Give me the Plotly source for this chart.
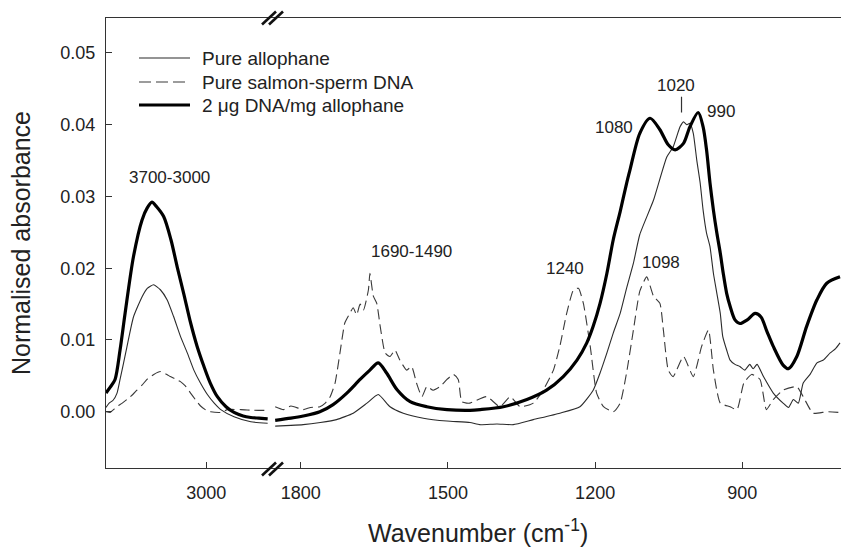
import plotly.graph_objects as go

# ---------------- data ----------------
# High-wavenumber segment (O-H stretching region), cm-1
allo_hi_wn = [3764, 3740, 3710, 3680, 3657, 3630, 3605, 3555, 3490, 3450, 3402, 3350,
              3299, 3250, 3197, 3145, 3095, 3045, 2992, 2940, 2890, 2789, 2661, 2533]
allo_hi = [0.0006, 0.0012, 0.0016, 0.0026, 0.0045, 0.0068, 0.0090, 0.0132, 0.0160, 0.0172,
           0.0177, 0.0170, 0.0156, 0.0133, 0.0105, 0.0082, 0.0058, 0.0040, 0.0024, 0.0012,
           0.0003, -0.0007, -0.0014, -0.0016]

dna_hi_wn = [3764, 3733, 3700, 3682, 3640, 3605, 3560, 3529, 3490, 3452, 3400, 3350, 3300,
             3274, 3240, 3197, 3160, 3120, 3080, 3044, 3000, 2967, 2890, 2839, 2737, 2640, 2533]
dna_hi = [0.0000, -0.0001, 0.0004, 0.0007, 0.0012, 0.0017, 0.0024, 0.0030, 0.0037, 0.0045,
          0.0052, 0.0056, 0.0052, 0.0049, 0.0046, 0.0042, 0.0036, 0.0026, 0.0016, 0.0008,
          0.0002, 0.0000, -0.0001, 0.0003, 0.0003, 0.0002, 0.0002]

cplx_hi_wn = [3764, 3733, 3695, 3657, 3618, 3555, 3490, 3450, 3414, 3380, 3325, 3270, 3222,
              3170, 3120, 3070, 3018, 2970, 2916, 2850, 2789, 2720, 2661, 2600, 2533]
cplx_hi = [0.0026, 0.0034, 0.0045, 0.0086, 0.0138, 0.0216, 0.0267, 0.0284, 0.0292, 0.0286,
           0.0272, 0.0240, 0.0202, 0.0163, 0.0124, 0.0091, 0.0063, 0.0040, 0.0021, 0.0007,
           -0.0001, -0.0006, -0.0008, -0.0009, -0.0010]

# Low-wavenumber segment (fingerprint region), cm-1
allo_lo_wn = [1852, 1820, 1795, 1760, 1727, 1693, 1665, 1642, 1618, 1591, 1550, 1502, 1455,
              1435, 1400, 1367, 1326, 1272, 1231, 1204, 1190, 1176, 1163, 1149, 1136, 1122,
              1109, 1081, 1054, 1041, 1027, 1020, 1013, 1007, 1000, 993, 986, 980, 973, 966,
              959, 952, 945, 940, 932, 925, 915, 905, 895, 885, 878, 870, 857, 837, 817,
              806, 796, 786, 776, 762, 748, 735, 721, 710, 701]
allo_lo = [-0.0020, -0.0019, -0.0018, -0.0015, -0.0011, -0.0002, 0.0012, 0.0024, 0.0007,
           -0.0002, -0.0009, -0.0013, -0.0015, -0.0018, -0.0017, -0.0018, -0.0011, -0.0002,
           0.0007, 0.0030, 0.0054, 0.0082, 0.0110, 0.0137, 0.0172, 0.0207, 0.0247, 0.0295,
           0.0355, 0.0369, 0.0397, 0.0404, 0.0400, 0.0402, 0.0388, 0.0351, 0.0319, 0.0281,
           0.0249, 0.0230, 0.0193, 0.0165, 0.0137, 0.0105, 0.0086, 0.0072, 0.0066, 0.0063,
           0.0058, 0.0066, 0.0060, 0.0066, 0.0049, 0.0026, 0.0012, 0.0006, 0.0017, 0.0012,
           0.0040, 0.0052, 0.0068, 0.0072, 0.0082, 0.0088, 0.0096]

dna_lo_wn = [1852, 1835, 1820, 1795, 1780, 1761, 1750, 1740, 1730, 1720, 1710, 1700, 1693,
             1686, 1679, 1672, 1662, 1659, 1652, 1645, 1638, 1628, 1618, 1608, 1598, 1584,
             1574, 1564, 1553, 1543, 1530, 1516, 1502, 1489, 1479, 1472, 1462, 1455, 1421,
             1394, 1373, 1353, 1326, 1306, 1285, 1272, 1258, 1244, 1234, 1224, 1210, 1197,
             1183, 1163, 1149, 1136, 1122, 1109, 1095, 1081, 1068, 1061, 1051, 1041, 1020,
             1000, 983, 969, 959, 945, 925, 911, 897, 881, 864, 851, 837, 817, 789, 776,
             756, 728, 701]
dna_lo = [0.0007, 0.0003, 0.0008, 0.0003, 0.0006, 0.0007, 0.0012, 0.0021, 0.0040, 0.0082,
          0.0124, 0.0137, 0.0145, 0.0135, 0.0150, 0.0142, 0.0170, 0.0193, 0.0161, 0.0151,
          0.0119, 0.0082, 0.0077, 0.0086, 0.0072, 0.0058, 0.0063, 0.0040, 0.0021, 0.0035,
          0.0030, 0.0035, 0.0045, 0.0052, 0.0045, 0.0014, 0.0012, 0.0012, 0.0021, 0.0007,
          0.0021, 0.0007, 0.0012, 0.0030, 0.0058, 0.0091, 0.0137, 0.0170, 0.0172, 0.0151,
          0.0091, 0.0026, 0.0007, 0.0000, 0.0012, 0.0054, 0.0114, 0.0168, 0.0188, 0.0161,
          0.0151, 0.0114, 0.0058, 0.0049, 0.0077, 0.0049, 0.0091, 0.0114, 0.0058, 0.0012,
          0.0007, 0.0003, 0.0040, 0.0052, 0.0045, 0.0003, 0.0017, 0.0030, 0.0035, 0.0021,
          -0.0002, 0.0000, -0.0001]

cplx_lo_wn = [1852, 1820, 1795, 1761, 1734, 1706, 1679, 1659, 1642, 1625, 1604, 1577, 1543,
              1502, 1455, 1434, 1387, 1339, 1299, 1265, 1237, 1217, 1204, 1190, 1176, 1163,
              1149, 1136, 1129, 1109, 1088, 1068, 1051, 1037, 1020, 1007, 990, 980, 973, 966,
              959, 952, 945, 939, 932, 925, 915, 905, 890, 874, 862, 850, 837, 817, 806, 789,
              769, 748, 728, 701]
cplx_lo = [-0.0012, -0.0009, -0.0006, 0.0000, 0.0010, 0.0026, 0.0045, 0.0058, 0.0068, 0.0054,
           0.0031, 0.0014, 0.0007, 0.0003, 0.0002, 0.0003, 0.0007, 0.0017, 0.0030, 0.0049,
           0.0072, 0.0096, 0.0119, 0.0151, 0.0193, 0.0240, 0.0279, 0.0318, 0.0337, 0.0388,
           0.0409, 0.0393, 0.0372, 0.0365, 0.0374, 0.0397, 0.0417, 0.0397, 0.0365, 0.0319,
           0.0281, 0.0249, 0.0221, 0.0193, 0.0165, 0.0147, 0.0128, 0.0123, 0.0128, 0.0137,
           0.0132, 0.0112, 0.0091, 0.0065, 0.0060, 0.0077, 0.0119, 0.0156, 0.0179, 0.0188]

series_names = ["Pure allophane", "Pure salmon-sperm DNA", "2 \u03bcg DNA/mg allophane"]
x_ticks_hi = [3000]
x_ticks_lo = [1800, 1500, 1200, 900]
y_ticks = [0.00, 0.01, 0.02, 0.03, 0.04, 0.05]

# ---------------- figure ----------------
FONT = "Liberation Sans, Arial, sans-serif"
W, H = 841, 551
ML, MR, MT, MB = 106, 0, 18, 83
PW, PH = W - ML - MR, H - MT - MB
BREAK = (272 - ML) / PW


def px(xp):
    return (xp - ML) / PW


def py(yp):
    return (H - MB - yp) / PH


styles = [
    dict(color="#2b2b2b", width=1.1, shape="spline", smoothing=0.5),
    dict(color="#3a3a3a", width=1.1, dash="10px,5px", shape="spline", smoothing=0.5),
    dict(color="#000000", width=3.2, shape="spline", smoothing=0.8),
]
hi = [(allo_hi_wn, allo_hi), (dna_hi_wn, dna_hi), (cplx_hi_wn, cplx_hi)]
lo = [(allo_lo_wn, allo_lo), (dna_lo_wn, dna_lo), (cplx_lo_wn, cplx_lo)]

fig = go.Figure()
for i, name in enumerate(series_names):
    fig.add_trace(go.Scatter(x=hi[i][0], y=hi[i][1], mode="lines", name=name,
                             legendgroup=name, showlegend=False, line=styles[i],
                             xaxis="x", yaxis="y"))
    fig.add_trace(go.Scatter(x=lo[i][0], y=lo[i][1], mode="lines", name=name,
                             legendgroup=name, showlegend=False, line=styles[i],
                             xaxis="x2", yaxis="y"))

axis_common = dict(showline=True, linecolor="#333333", linewidth=1.4, mirror=True,
                   ticks="inside", ticklen=6, tickcolor="#333333", tickwidth=1.2,
                   showgrid=False, zeroline=False,
                   tickfont=dict(family=FONT, size=18, color="#222222"))

fig.update_layout(
    width=W, height=H,
    margin=dict(l=ML, r=MR, t=MT, b=MB, autoexpand=False),
    paper_bgcolor="white", plot_bgcolor="white",
    font=dict(family=FONT, color="#222222"),
    xaxis=dict(domain=[0, BREAK], range=[3764, 2500], tickvals=x_ticks_hi,
               anchor="y", ticklabelstandoff=8, **axis_common),
    xaxis2=dict(domain=[BREAK, 1], range=[1858.5, 699], tickvals=x_ticks_lo,
                anchor="y", ticklabelstandoff=8, **axis_common),
    yaxis=dict(range=[-0.00784, 0.05487], tickvals=y_ticks, tickformat=".2f",
               anchor="x", showline=True, linecolor="#333333", linewidth=1.4,
               ticks="inside", ticklen=6, tickcolor="#333333", tickwidth=1.2,
               showgrid=False, zeroline=False, ticklabelstandoff=6,
               tickfont=dict(family=FONT, size=18, color="#222222"),
               title=dict(text="Normalised absorbance", standoff=22,
                          font=dict(family=FONT, size=25, color="#222222"))),
    showlegend=False,
)

# legend key (drawn in the plot's upper-left corner, as in the original)
legend_rows = [58, 82, 105]
for i, name in enumerate(series_names):
    st = {k: v for k, v in styles[i].items() if k in ("color", "width", "dash")}
    if "dash" in st:
        st["dash"] = "12px,5px"
    fig.add_shape(type="line", xref="paper", yref="paper",
                  x0=px(139), x1=px(190), y0=py(legend_rows[i]), y1=py(legend_rows[i]),
                  line=st)
    fig.add_annotation(text=name, xref="paper", yref="paper", x=px(200),
                       y=py(legend_rows[i]), xanchor="left", yanchor="middle",
                       showarrow=False, font=dict(family=FONT, size=19, color="#222222"))

# x-axis title centred under the whole broken axis
fig.add_annotation(text="Wavenumber (cm<sup>-1</sup>)", xref="paper", yref="paper",
                   x=px(478), y=py(531), xanchor="center", yanchor="middle",
                   showarrow=False, font=dict(family=FONT, size=25, color="#222222"))

# band labels
labels = [
    ("3700-3000", "x", 3281, 0.0327),
    ("1690-1490", "x2", 1574, 0.0223),
    ("1240", "x2", 1261, 0.0199),
    ("1098", "x2", 1066, 0.0208),
    ("1080", "x2", 1161, 0.0396),
    ("1020", "x2", 1035, 0.0455),
    ("990", "x2", 943, 0.0419),
]
for txt, xr, xv, yv in labels:
    fig.add_annotation(text=txt, xref=xr, yref="y", x=xv, y=yv, showarrow=False,
                       xanchor="center", yanchor="middle",
                       font=dict(family=FONT, size=17, color="#222222"))

# pointer line for the 1020 band
fig.add_shape(type="line", xref="x2", yref="y", x0=1024, x1=1024, y0=0.0439, y1=0.0417,
              line=dict(color="#333333", width=1.2))

# axis break marks (//) on bottom and top axis lines
for yc in (18, 469):
    for dx in (0, 7):
        fig.add_shape(type="line", xref="paper", yref="paper",
                      x0=px(262 + dx), y0=py(yc + 6.5), x1=px(276 + dx), y1=py(yc - 6.5),
                      line=dict(color="#111111", width=2.6), layer="above")

fig.write_html("out.html",
               config={"displayModeBar": False},
               post_script="document.body.style.margin='0px';"
                           "document.body.style.overflow='hidden';")
